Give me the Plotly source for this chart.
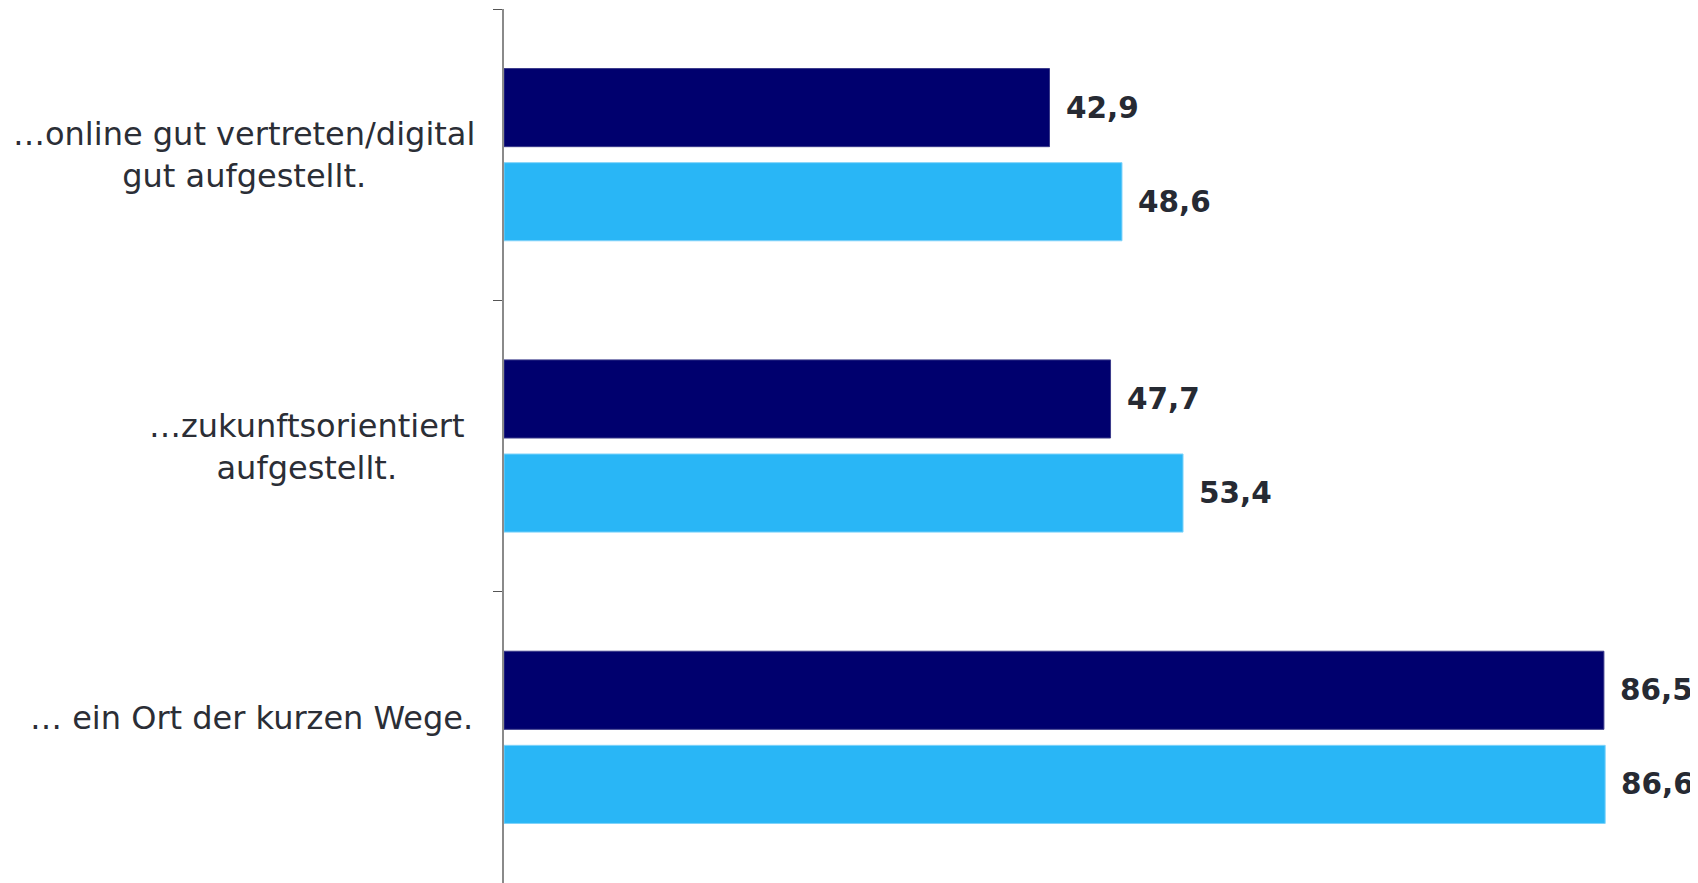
import plotly.graph_objects as go

categories = ["…online gut vertreten/digital<br>gut aufgestellt.",
              "…zukunftsorientiert<br>aufgestellt.",
              "… ein Ort der kurzen Wege."]
series_a = [42.9, 47.7, 86.5]
series_b = [48.6, 53.4, 86.6]
label_centers_px = [244, 307, 251]
label_yshift = [0, -1, 19]

PAGE_OFF = 8  # default body margin of the html page
W, H = 1698 - PAGE_OFF, 883 - PAGE_OFF
ML, MR, MT, MB = 504 - PAGE_OFF, 0, 1, 0

fig = go.Figure()
fig.add_trace(go.Bar(y=list(range(3)), x=series_a, orientation="h",
                     marker=dict(color="#00006E", line=dict(color="#3a3a8a", width=1)),
                     name="A", showlegend=False))
fig.add_trace(go.Bar(y=list(range(3)), x=series_b, orientation="h",
                     marker=dict(color="#29B6F6", line=dict(color="#7fd3fa", width=1)),
                     name="B", showlegend=False))

ann = []
fmt = lambda v: f"{v:.1f}".replace(".", ",")
vfont = dict(family="DejaVu Sans", size=29.5, color="#262a33", weight="bold")
for i in range(3):
    ann.append(dict(x=series_a[i], y=i, xref="x", yref="y", text=fmt(series_a[i]),
                    xanchor="left", yanchor="middle", xshift=14, yshift=47, showarrow=False,
                    font=vfont))
    ann.append(dict(x=series_b[i], y=i, xref="x", yref="y", text=fmt(series_b[i]),
                    xanchor="left", yanchor="middle", xshift=14, yshift=-47, showarrow=False,
                    font=vfont))
    ann.append(dict(x=0, y=i, xref="paper", yref="y", text=categories[i],
                    xanchor="center", yanchor="middle", align="center",
                    xshift=label_centers_px[i] - (ML + PAGE_OFF), yshift=label_yshift[i],
                    showarrow=False,
                    font=dict(family="DejaVu Sans", size=32, color="#2b2e36")))

fig.update_layout(
    width=W, height=H, margin=dict(l=ML, r=MR, t=MT, b=MB),
    paper_bgcolor="white", plot_bgcolor="white",
    barmode="group", bargap=0.354, bargroupgap=0.17,
    annotations=ann,
    xaxis=dict(range=[0, 93.9], visible=False, showgrid=False, zeroline=False),
    yaxis=dict(range=[2.5, -0.5], showticklabels=False, showgrid=False, zeroline=False,
               showline=True, linecolor="#8a8a8a", linewidth=1.5,
               ticks="outside", ticklen=9, tickcolor="#555555", tickwidth=1,
               tickmode="array", tickvals=[-0.5, 0.5, 1.5, 2.5]),
)
fig.write_html("out.html")
